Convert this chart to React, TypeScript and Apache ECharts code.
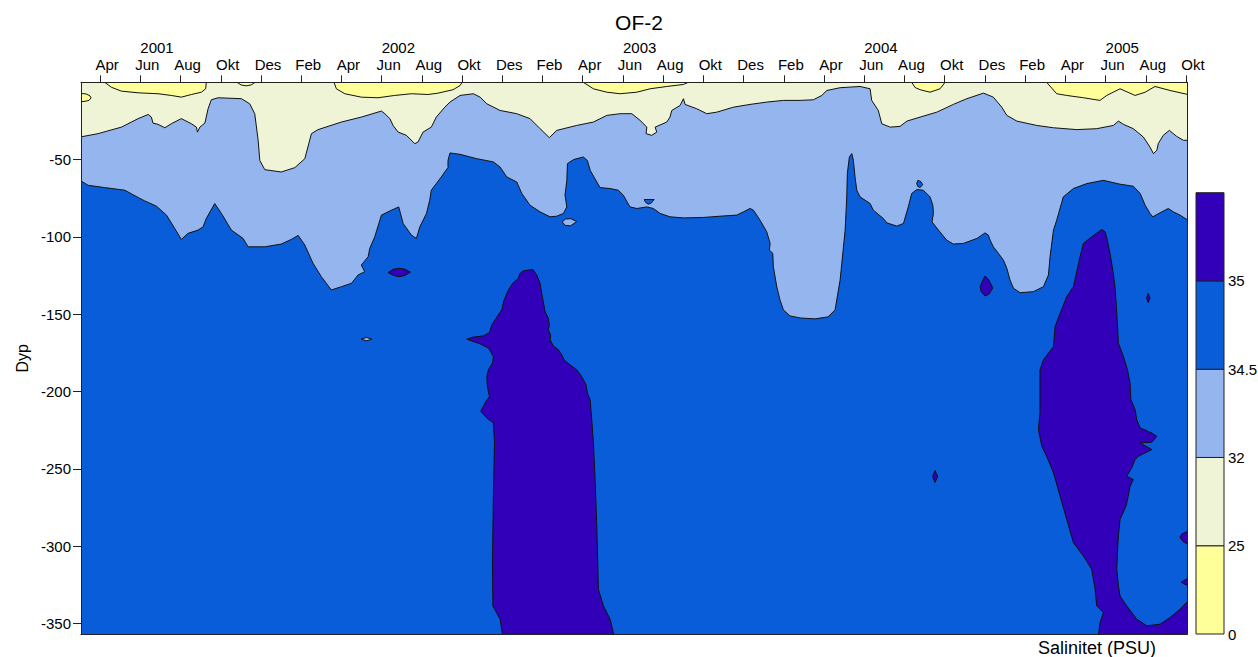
import React, { useEffect, useRef } from "react";
import * as echarts from "echarts";

const FONT = "'Liberation Sans', Arial, sans-serif";

// x values: months since Jan 2001 (0 = 1 Jan 2001); y values: depth (m)
const MONTH_NAMES = ["Jan", "Feb", "Mar", "Apr", "Mai", "Jun", "Jul", "Aug", "Sep", "Okt", "Nov", "Des"];
const MONTH_TICKS = [3, 5, 7, 9, 11, 13, 15, 17, 19, 21, 23, 25, 27, 29, 31, 33, 35, 37, 39, 41, 43, 45, 47, 49, 51, 53, 55, 57];
const YEAR_LABELS = ["2001", "2002", "2003", "2004", "2005"];
const YEAR_POS = [5.83, 17.83, 29.83, 41.83, 53.83];
const DEPTH_TICKS = [-50, -100, -150, -200, -250, -300, -350];
const X_MIN = 2.05;
const X_MAX = 57.05;
const Y_MIN = -357;
const Y_MAX = 0;

// colour scale (salinity, PSU)
const LEVELS = [0, 25, 32, 34.5, 35];
const LEVEL_COLORS = ["#FFFF99", "#EEF4D5", "#94B5EE", "#0A5DD8", "#3300BA"];

// 32 PSU contour (between 25-32 and 32-34.5)
const ISO_32: number[][] = [
  [2.0, -35.4], [2.9, -33.2], [4.06, -29.0], [4.89, -23.5], [5.39, -20.8], [5.55, -22.5], [5.63, -26.4], [5.88, -27.2],
  [6.22, -29.4], [6.54, -26.8], [7.04, -23.5], [7.54, -26.8], [7.79, -29.0], [7.84, -32.2], [7.96, -29.0], [8.21, -26.4],
  [8.37, -17.1], [8.53, -11.3], [8.87, -10.0], [10.03, -10.6], [10.44, -13.9], [10.69, -20.3], [10.86, -37.5], [10.94, -50.5],
  [11.19, -56.5], [12.01, -58.0], [12.68, -55.2], [13.18, -49.4], [13.51, -33.2], [13.84, -30.6], [15.0, -25.7], [15.99, -22.5],
  [16.99, -18.6], [17.16, -20.3], [17.41, -23.5], [17.57, -27.9], [17.82, -32.2], [18.23, -34.3], [18.65, -39.7], [18.81, -38.6],
  [19.06, -32.2], [19.47, -29.0], [19.72, -22.5], [20.14, -16.1], [20.4, -12.8], [20.9, -8.5], [21.56, -7.4], [21.9, -9.6],
  [22.23, -13.9], [22.89, -18.2], [23.72, -20.3], [24.38, -23.5], [24.88, -30.0], [25.34, -35.8], [25.71, -31.1], [26.7, -27.9],
  [27.53, -25.7], [28.2, -21.4], [28.86, -20.3], [29.44, -20.3], [29.85, -24.6], [30.19, -29.0], [30.15, -33.2], [30.43, -34.3],
  [30.68, -32.2], [30.6, -29.0], [31.18, -25.7], [31.34, -22.5], [31.43, -18.2], [31.84, -15.0], [32.01, -10.6], [32.09, -14.3],
  [32.67, -17.1], [33.17, -20.3], [33.67, -19.3], [34.49, -16.1], [35.32, -14.3], [36.15, -12.8], [36.98, -11.7], [37.81, -11.7],
  [38.47, -11.3], [38.89, -8.5], [39.14, -5.3], [39.8, -3.5], [40.79, -2.7], [41.29, -4.2], [41.37, -11.7], [41.7, -18.2],
  [41.87, -26.8], [42.29, -29.0], [42.78, -28.5], [43.12, -25.1], [43.78, -22.5], [44.61, -19.3], [45.43, -14.3], [46.1, -10.6],
  [46.93, -7.0], [47.42, -9.6], [47.84, -16.1], [48.09, -21.4], [48.59, -25.1], [49.58, -27.9], [50.41, -29.4], [51.57, -30.6],
  [52.56, -30.0], [53.39, -27.9], [53.64, -25.1], [53.89, -27.2], [54.38, -30.0], [54.88, -35.4], [55.21, -41.9], [55.38, -46.1],
  [55.55, -44.0], [55.62, -39.7], [55.87, -34.3], [56.17, -31.1], [56.54, -35.0], [56.87, -37.5], [57.1, -37.5],
];

// 34.5 PSU contour (between 32-34.5 and 34.5-35)
const ISO_345: number[][] = [
  [2.0, -63.4], [2.4, -66.6], [3.23, -68.1], [4.23, -69.8], [4.89, -74.5], [5.22, -76.7], [5.8, -80.1], [6.3, -85.9],
  [6.71, -94.5], [7.04, -101.6], [7.37, -97.7], [7.87, -95.6], [8.12, -93.5], [8.28, -88.1], [8.7, -78.4], [9.03, -84.8],
  [9.53, -95.6], [10.11, -101.0], [10.36, -106.4], [11.19, -106.4], [12.01, -104.6], [12.51, -101.6], [12.85, -99.0], [13.18, -105.3],
  [13.59, -117.1], [14.0, -125.7], [14.5, -134.3], [15.0, -132.2], [15.5, -130.0], [15.83, -124.6], [16.16, -122.5], [15.99, -118.2],
  [16.33, -112.8], [16.41, -107.4], [16.66, -99.9], [16.99, -85.9], [17.41, -83.2], [17.85, -80.6], [18.07, -91.3], [18.48, -98.8],
  [18.73, -101.0], [18.9, -93.5], [19.23, -84.8], [19.39, -76.3], [19.47, -69.8], [19.72, -65.5], [19.97, -61.2], [20.14, -58.0],
  [20.3, -55.2], [20.3, -50.5], [20.4, -45.7], [20.9, -46.6], [21.73, -49.4], [22.56, -51.5], [22.89, -54.8], [23.22, -61.2],
  [23.72, -64.5], [23.97, -71.9], [24.38, -79.5], [24.88, -83.8], [25.38, -87.0], [25.71, -86.6], [26.04, -84.8], [26.21, -80.6],
  [26.12, -73.0], [26.21, -63.4], [26.24, -52.6], [26.54, -50.0], [27.03, -48.3], [27.23, -50.5], [27.37, -56.9], [27.7, -64.5],
  [27.86, -68.1], [28.36, -68.7], [28.77, -69.8], [29.02, -73.0], [29.35, -80.6], [29.69, -81.6], [30.19, -80.6], [30.51, -81.6],
  [30.85, -84.8], [31.34, -87.0], [32.01, -87.7], [33.0, -87.4], [33.83, -86.6], [34.66, -85.9], [34.99, -83.8], [35.32, -81.6],
  [35.49, -82.7], [35.82, -89.2], [36.15, -96.7], [36.32, -104.2], [36.28, -108.5], [36.45, -110.6], [36.48, -119.3], [36.65, -132.2],
  [36.81, -140.8], [36.98, -147.2], [37.31, -151.1], [37.81, -152.4], [38.55, -153.0], [39.2, -151.7], [39.55, -147.2], [39.8, -127.9],
  [40.05, -95.6], [40.13, -74.1], [40.16, -59.0], [40.26, -48.3], [40.38, -46.1], [40.46, -50.5], [40.54, -61.2], [40.63, -69.8],
  [40.79, -74.1], [41.29, -78.4], [41.45, -82.7], [41.95, -88.1], [42.12, -90.9], [42.62, -93.0], [42.95, -91.3], [43.19, -80.6],
  [43.36, -71.9], [43.61, -69.4], [43.94, -69.8], [44.27, -74.1], [44.41, -79.5], [44.44, -84.8], [44.37, -90.3], [44.69, -95.6],
  [45.1, -102.1], [45.43, -104.6], [45.93, -104.2], [46.6, -101.0], [47.01, -97.4], [47.17, -98.8], [47.26, -102.1], [47.42, -106.4],
  [47.67, -110.6], [47.92, -115.0], [48.09, -120.3], [48.25, -127.9], [48.42, -133.2], [48.75, -136.1], [49.41, -135.4], [49.91, -132.2],
  [50.16, -124.6], [50.24, -112.8], [50.41, -95.6], [50.57, -89.2], [50.9, -74.1], [51.4, -68.7], [52.07, -65.5], [52.89, -63.4],
  [53.72, -65.9], [54.38, -67.2], [54.72, -71.9], [54.97, -79.5], [55.21, -84.8], [55.35, -87.0], [55.71, -84.4], [56.12, -81.6],
  [56.37, -83.8], [56.7, -85.9], [57.1, -89.2],
];

// fresh (< 25 PSU) pockets at the surface
const FRESH_POCKETS: number[][][] = [
  [[2.0, -7.2], [2.3, -7.5], [2.5, -8.8], [2.55, -10.1], [2.45, -11.7], [2.2, -12.4], [2.0, -12.4]],
  [[3.23, 0], [3.56, -3.2], [4.06, -5.7], [4.89, -6.8], [5.88, -7.4], [6.54, -8.5], [7.04, -9.6], [7.54, -7.9], [8.04, -6.4], [8.25, -4.2], [8.28, 0]],
  [[9.81, 0], [10.01, -1.7], [10.26, -2.3], [10.51, -1.7], [10.71, 0]],
  [[14.63, 0], [14.75, -4.2], [15.17, -7.4], [15.99, -9.6], [16.82, -10.0], [17.65, -8.5], [18.48, -7.4], [19.31, -7.9], [19.81, -7.0], [20.55, -4.8], [20.9, -2.1], [21.0, 0]],
  [[27.03, 0], [27.53, -4.2], [28.2, -6.4], [28.86, -7.4], [29.69, -6.4], [30.35, -4.2], [31.18, -2.7], [32.01, -1.4], [32.25, 0]],
  [[43.36, 0], [43.53, -3.4], [43.78, -4.8], [44.27, -6.4], [44.77, -4.2], [45.02, 0]],
  [[50.07, 0], [50.57, -7.4], [51.07, -8.5], [51.9, -10.0], [52.72, -11.7], [53.06, -8.5], [53.72, -4.2], [54.47, -8.5], [54.97, -6.4], [55.46, -2.7], [56.21, -5.3], [57.1, -7.9], [57.1, 0]],
];

// 32-34.5 patches inside the 34.5-35 water
const MID_PATCHES: number[][][] = [
  [[25.97, -90.3], [26.15, -88.4], [26.4, -88.2], [26.7, -90.0], [26.4, -92.8], [26.15, -92.6]],
  [[15.98, -166.1], [16.25, -165.0], [16.52, -166.1], [16.25, -167.2]],
];

// 34.5-35 patches inside the 32-34.5 water
const SALTY_PATCHES: number[][][] = [
  [[30.06, -75.8], [30.55, -75.8], [30.4, -78.2], [30.25, -78.8], [30.12, -77.5]],
  [[43.67, -63.4], [43.82, -64.3], [43.91, -66.3], [43.77, -68.1], [43.65, -67.2], [43.61, -65.3]],
];

// > 35 PSU bodies
const CORE_2002: number[][] = [
  [23.88, -123.5], [24.05, -121.9], [24.52, -121.0], [24.71, -124.6], [24.88, -130.0], [24.96, -136.5], [25.13, -148.3], [25.29, -152.6],
  [25.34, -156.9], [25.29, -160.1], [25.41, -163.4], [25.38, -166.6], [25.54, -170.5], [25.79, -173.0], [25.96, -176.3], [26.07, -179.5],
  [26.37, -182.7], [26.7, -185.9], [26.95, -190.3], [27.17, -195.6], [27.23, -201.0], [27.37, -205.3], [27.45, -218.2], [27.53, -233.2],
  [27.61, -254.8], [27.7, -287.0], [27.78, -327.9], [28.03, -338.6], [28.36, -347.2], [28.56, -358], [23.02, -358], [22.89, -347.2],
  [22.53, -338.6], [22.51, -308.5], [22.56, -265.5], [22.61, -233.2], [22.56, -220.3], [22.23, -217.1], [21.93, -212.8], [22.14, -207.4],
  [22.36, -203.2], [22.26, -196.7], [22.23, -190.3], [22.31, -185.9], [22.51, -181.6], [22.56, -177.4], [22.31, -171.9], [21.9, -169.2],
  [21.23, -166.1], [21.56, -164.8], [22.06, -164.0], [22.36, -161.9], [22.48, -156.9], [22.69, -152.6], [22.97, -147.2], [23.09, -140.8],
  [23.3, -134.3], [23.52, -130.0], [23.8, -126.8],
];
const CORE_2005: number[][] = [
  [52.81, -95.2], [52.98, -96.7], [53.09, -102.1], [53.22, -110.6], [53.36, -121.4], [53.47, -132.2], [53.56, -149.4], [53.64, -168.7],
  [53.89, -177.4], [54.09, -185.9], [54.22, -194.5], [54.26, -205.3], [54.47, -211.7], [54.55, -218.2], [54.72, -223.5], [55.3, -226.8],
  [55.55, -229.0], [55.3, -232.8], [54.72, -233.2], [55.3, -237.5], [54.63, -241.9], [54.47, -244.0], [54.3, -249.4], [54.05, -254.8],
  [54.38, -256.9], [54.22, -261.2], [54.13, -267.7], [54.02, -274.1], [53.72, -282.7], [53.64, -293.5], [53.59, -304.2], [53.56, -315.0],
  [53.64, -325.7], [53.72, -332.2], [54.05, -338.6], [54.55, -347.2], [55.05, -351.5], [55.71, -350.5], [56.21, -346.1], [56.7, -340.8],
  [57.1, -335.4], [57.1, -358], [52.64, -358], [52.73, -349.4], [52.89, -342.9], [52.56, -338.6], [52.48, -327.9], [52.31, -315.0],
  [51.9, -306.4], [51.4, -297.7], [51.07, -282.7], [50.74, -267.7], [50.41, -252.6], [50.07, -241.9], [49.83, -235.4], [49.66, -224.6],
  [49.74, -213.9], [49.74, -185.9], [49.91, -179.5], [50.41, -170.9], [50.49, -158.0], [50.74, -149.4], [51.07, -138.6], [51.4, -132.2],
  [51.73, -112.8], [51.9, -104.2], [52.31, -99.9],
];
const CORE_SPOTS: number[][][] = [
  [[17.32, -123.0], [17.6, -120.8], [17.87, -120.3], [18.15, -120.8], [18.43, -122.8], [18.15, -125.0], [17.87, -125.7], [17.6, -125.0]],
  [[47.01, -125.3], [47.2, -128], [47.39, -133.0], [47.2, -137], [47.01, -138.2], [46.82, -135.5], [46.76, -132.2], [46.88, -128.5]],
  [[55.12, -136.5], [55.21, -139.5], [55.12, -142.5], [55.04, -139.5]],
  [[44.52, -251.1], [44.65, -255], [44.52, -258.8], [44.4, -255]],
  [[57.1, -290.3], [56.8, -292], [56.7, -294.3], [56.85, -297], [57.1, -298.8]],
  [[57.1, -320.8], [56.75, -323.3], [57.1, -325.7]],
];

function polySeries(points: number[][], color: string) {
  return {
    type: "custom",
    coordinateSystem: "cartesian2d",
    xAxisIndex: 0,
    yAxisIndex: 0,
    clip: true,
    silent: true,
    data: points,
    encode: { x: 0, y: 1 },
    renderItem: (params: any, api: any) => {
      if (params.dataIndex !== 0) return null;
      const pts = points.map((p) => api.coord(p));
      return {
        type: "polygon",
        shape: { points: pts },
        style: { fill: color, stroke: "#111", lineWidth: 1 },
      };
    },
  };
}

export default function App() {
  const ref = useRef<HTMLDivElement>(null);

  useEffect(() => {
    if (!ref.current) return;
    const chart = echarts.init(ref.current, null, { renderer: "svg" });

    const TOP = 2; // above the surface, clipped by the grid
    const midRegion = [[ISO_345[0][0], TOP], ...ISO_345, [ISO_345[ISO_345.length - 1][0], TOP]];
    const brackishRegion = [[ISO_32[0][0], TOP], ...ISO_32, [ISO_32[ISO_32.length - 1][0], TOP]];
    const freshRegions = FRESH_POCKETS.map((p) => {
      if (p[0][1] === 0) {
        return [[p[0][0], TOP], ...p, [p[p.length - 1][0], TOP]];
      }
      return p;
    });

    const series: any[] = [
      polySeries(midRegion, LEVEL_COLORS[2]),
      polySeries(brackishRegion, LEVEL_COLORS[1]),
      ...freshRegions.map((p) => polySeries(p, LEVEL_COLORS[0])),
      ...MID_PATCHES.map((p) => polySeries(p, LEVEL_COLORS[2])),
      ...SALTY_PATCHES.map((p) => polySeries(p, LEVEL_COLORS[3])),
      polySeries(CORE_2002, LEVEL_COLORS[4]),
      polySeries(CORE_2005, LEVEL_COLORS[4]),
      ...CORE_SPOTS.map((p) => polySeries(p, LEVEL_COLORS[4])),
    ];

    // colour bar
    const CB_X = 1196;
    const CB_W = 28;
    const CB_TOP = 192.7;
    const CB_BOTTOM = 634;
    const band = (CB_BOTTOM - CB_TOP) / LEVEL_COLORS.length;
    const graphic: any[] = [
      ...LEVEL_COLORS.map((c, i) => ({
        type: "rect",
        shape: { x: CB_X, y: CB_BOTTOM - (i + 1) * band, width: CB_W, height: band },
        style: { fill: c, stroke: "#222", lineWidth: 1 },
      })),
      ...LEVELS.map((v, i) => ({
        type: "text",
        x: CB_X + CB_W + 4,
        y: CB_BOTTOM - i * band,
        style: {
          text: String(v),
          fontSize: 15,
          fontFamily: FONT,
          fill: "#000",
          align: "left",
          verticalAlign: "middle",
          textAlign: "left",
          textVerticalAlign: "middle",
        },
      })),
      {
        type: "text",
        x: 1097,
        y: 648,
        style: {
          text: "Salinitet (PSU)",
          fontSize: 18,
          fontFamily: FONT,
          fill: "#000",
          align: "center",
          verticalAlign: "middle",
          textAlign: "center",
          textVerticalAlign: "middle",
        },
      },
    ];

    const lineStyle = { color: "#222", width: 1 };

    chart.setOption({
      animation: false,
      title: {
        text: "OF-2",
        left: 634,
        top: 7,
        textAlign: "center",
        textStyle: { fontSize: 21, fontWeight: "normal", color: "#000", fontFamily: FONT },
      },
      grid: {
        left: 81,
        right: 71,
        top: 82.3,
        bottom: 22.7,
        show: true,
        backgroundColor: LEVEL_COLORS[3],
        borderWidth: 0,
        containLabel: false,
        outerBoundsMode: "none",
      },
      xAxis: [
        {
          type: "value",
          position: "top",
          min: X_MIN,
          max: X_MAX,
          z: 10,
          axisLine: { show: true, onZero: false, lineStyle },
          axisTick: { show: true, length: 7, inside: false, customValues: MONTH_TICKS, lineStyle },
          axisLabel: {
            customValues: MONTH_TICKS,
            formatter: (v: number) => MONTH_NAMES[Math.round(v) % 12],
            fontSize: 15,
            fontFamily: FONT,
            color: "#000",
            margin: 10,
            padding: [0, 0, 0, 14],
          },
          splitLine: { show: false },
        },
        {
          type: "value",
          position: "top",
          offset: 17.5,
          min: X_MIN,
          max: X_MAX,
          axisLine: { show: false, onZero: false },
          axisTick: { show: false },
          axisLabel: {
            customValues: YEAR_POS,
            formatter: (v: number) => YEAR_LABELS[Math.round((v - YEAR_POS[0]) / 12)] ?? "",
            fontSize: 15,
            fontFamily: FONT,
            color: "#000",
            margin: 10,
          },
          splitLine: { show: false },
        },
        {
          type: "value",
          position: "bottom",
          min: X_MIN,
          max: X_MAX,
          z: 10,
          axisLine: { show: true, onZero: false, lineStyle },
          axisTick: { show: false },
          axisLabel: { show: false },
          splitLine: { show: false },
        },
      ],
      yAxis: [
        {
          type: "value",
          position: "left",
          min: Y_MIN,
          max: Y_MAX,
          z: 10,
          name: "Dyp",
          nameLocation: "middle",
          nameGap: 51,
          nameTextStyle: { fontSize: 16, fontFamily: FONT, color: "#000" },
          axisLine: { show: true, onZero: false, lineStyle },
          axisTick: { show: true, length: 8, customValues: DEPTH_TICKS, lineStyle },
          axisLabel: { customValues: DEPTH_TICKS, fontSize: 15, fontFamily: FONT, color: "#000", margin: 10 },
          splitLine: { show: false },
        },
        {
          type: "value",
          position: "right",
          min: Y_MIN,
          max: Y_MAX,
          z: 10,
          axisLine: { show: true, onZero: false, lineStyle },
          axisTick: { show: false },
          axisLabel: { show: false },
          splitLine: { show: false },
        },
      ],
      series,
      graphic,
    });

    return () => chart.dispose();
  }, []);

  return (
    <div
      ref={ref}
      style={{ position: "absolute", left: 0, top: 0, width: 1258, height: 657 }}
    />
  );
}
